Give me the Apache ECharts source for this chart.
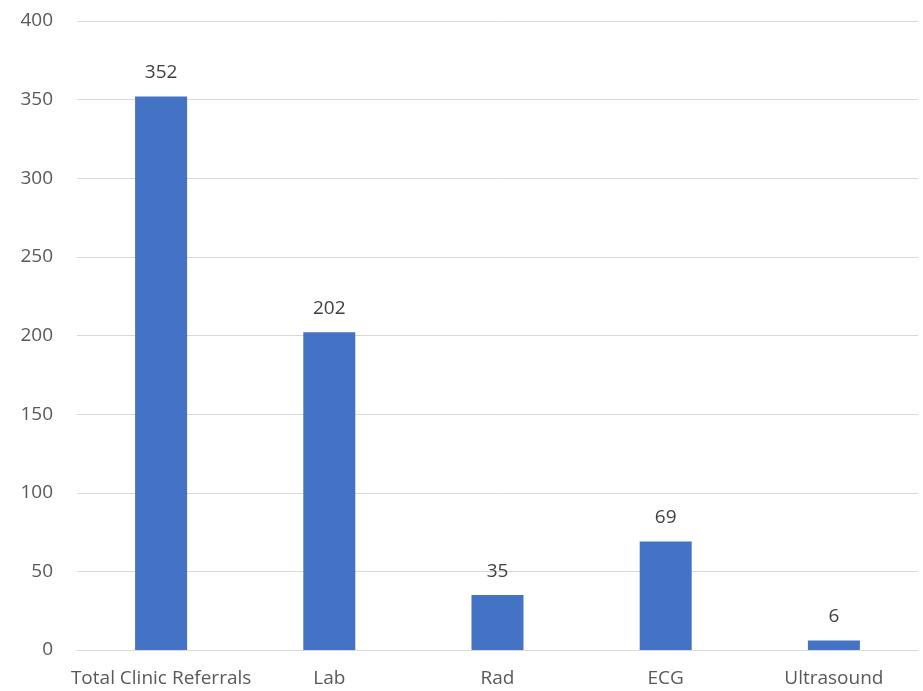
<!DOCTYPE html>
<html>
<head>
<meta charset="utf-8">
<script src="https://cdn.jsdelivr.net/npm/echarts@6/dist/echarts.min.js"></script>
<style>
  html, body { margin: 0; padding: 0; background: #fff; }
  #chart { width: 923px; height: 691px; }
</style>
</head>
<body>
<div id="chart"></div>
<script>
const categories = ["Total Clinic Referrals", "Lab", "Rad", "ECG", "Ultrasound"]
const referrals = [352, 202, 35, 69, 6]

const chart = echarts.init(document.getElementById("chart"))
const textColor = "#595959"
const font = "Open Sans, Liberation Sans, sans-serif"

chart.setOption({
  animation: false,
  grid: { left: 77, right: 5, top: 21, bottom: 41 },
  xAxis: {
    type: "category",
    data: categories,
    axisTick: { show: false },
    axisLine: { lineStyle: { color: "#d9d9d9" } },
    axisLabel: { color: textColor, fontSize: 19, fontFamily: font, margin: 19, interval: 0 }
  },
  yAxis: {
    type: "value",
    min: 0,
    max: 400,
    interval: 50,
    axisLine: { show: false },
    axisTick: { show: false },
    splitLine: { lineStyle: { color: "#d9d9d9", width: 1 } },
    axisLabel: { color: textColor, fontSize: 19, fontFamily: font, margin: 24 }
  },
  series: [{
    type: "bar",
    data: referrals,
    barWidth: 52,
    itemStyle: { color: "#4472c4" },
    label: {
      show: true,
      position: "top",
      distance: 14,
      color: "#404040",
      fontSize: 19,
      fontFamily: font
    }
  }]
})
</script>
</body>
</html>
